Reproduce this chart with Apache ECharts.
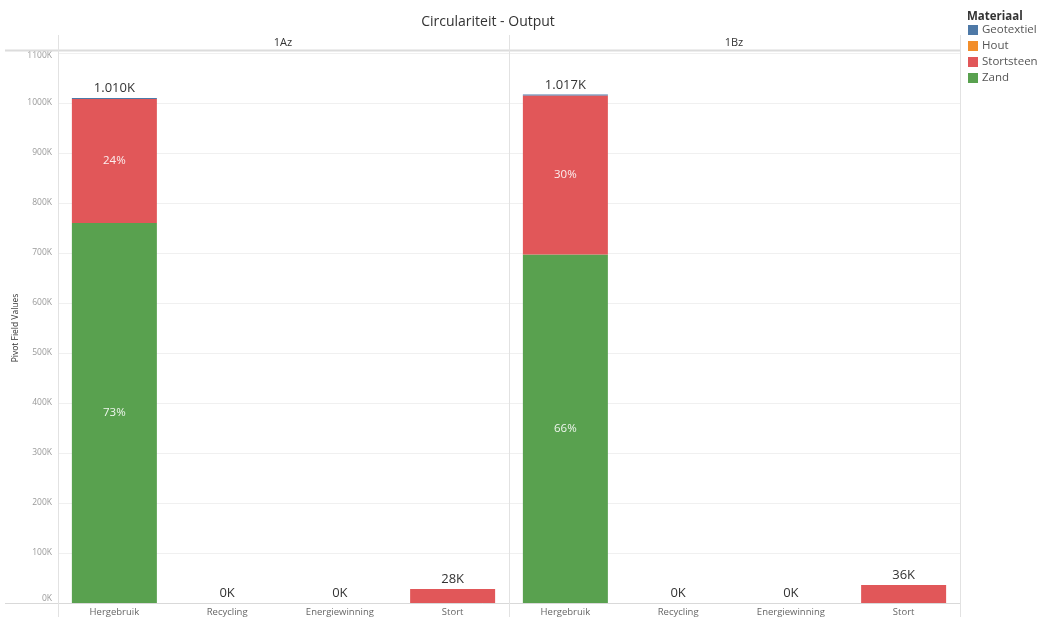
<!DOCTYPE html>
<html>
<head>
<meta charset="utf-8">
<script src="https://cdn.jsdelivr.net/npm/echarts@6/dist/echarts.min.js"></script>
<style>
  html, body { margin: 0; padding: 0; background: #fff; }
  #chart { width: 1041px; height: 617px; }
</style>
</head>
<body>
<div id="chart"></div>
<script>
// Categories and panes
const categories = ['Hergebruik', 'Recycling', 'Energiewinning', 'Stort'];
const panes = ['1Az', '1Bz'];
const materials = ['Geotextiel', 'Hout', 'Stortsteen', 'Zand'];
const yTicks = [0, 100, 200, 300, 400, 500, 600, 700, 800, 900, 1000, 1100]; // in K

// Values (thousands) per material, per pane
const geotextiel1Az = [2, 0, 0, 0];
const hout1Az       = [0, 0, 0, 0];
const stortsteen1Az = [248, 0, 0, 28];
const zand1Az       = [760, 0, 0, 0];

const geotextiel1Bz = [2, 0, 0, 0];
const hout1Bz       = [0, 0, 0, 0];
const stortsteen1Bz = [318, 0, 0, 36];
const zand1Bz       = [697, 0, 0, 0];

const colors = { Geotextiel: '#4e79a7', Hout: '#f28e2b', Stortsteen: '#e15759', Zand: '#59a14f' };

const paneData = [
  { Zand: zand1Az, Stortsteen: stortsteen1Az, Hout: hout1Az, Geotextiel: geotextiel1Az },
  { Zand: zand1Bz, Stortsteen: stortsteen1Bz, Hout: hout1Bz, Geotextiel: geotextiel1Bz }
];

function fmtK(v) {
  v = Math.round(v);
  if (v >= 1000) {
    const r = v % 1000;
    return Math.floor(v / 1000) + '.' + String(r).padStart(3, '0') + 'K';
  }
  return v + 'K';
}

const FONT = '"Open Sans", "Noto Sans", sans-serif';
const stackOrder = ['Zand', 'Stortsteen', 'Hout', 'Geotextiel'];

const series = [];
paneData.forEach((pd, p) => {
  const totals = categories.map((_, i) => stackOrder.reduce((s, m) => s + pd[m][i], 0));
  const paneTotal = totals.reduce((a, b) => a + b, 0);
  stackOrder.forEach(m => {
    series.push({
      name: m,
      type: 'bar',
      xAxisIndex: p,
      yAxisIndex: p,
      stack: 'pane' + p,
      barWidth: 85,
      barGap: '-100%',
      data: pd[m],
      itemStyle: { color: colors[m] },
      label: {
        show: true,
        position: 'inside',
        color: 'rgba(255,255,255,0.9)',
        fontSize: 11.5,
        fontFamily: FONT,
        formatter: prm => {
          const pct = prm.value / paneTotal * 100;
          return pct >= 5 ? Math.round(pct) + '%' : '';
        }
      },
      silent: true
    });
  });
  // totals on top of each stack
  series.push({
    name: 'total' + p,
    type: 'bar',
    xAxisIndex: p,
    yAxisIndex: p,
    barWidth: 85,
    barGap: '-100%',
    data: totals,
    itemStyle: { color: 'rgba(0,0,0,0)' },
    label: {
      show: true,
      position: 'top',
      distance: 3,
      color: '#333',
      fontSize: 13,
      fontFamily: FONT,
      formatter: prm => fmtK(prm.value)
    },
    silent: true,
    z: 1
  });
});

const gridTop = 53, gridBottom = 14;
const grids = [
  { left: 58, right: 1041 - 509, top: gridTop, bottom: gridBottom },
  { left: 509, right: 1041 - 960, top: gridTop, bottom: gridBottom }
];

const xAxes = panes.map((_, p) => ({
  type: 'category',
  gridIndex: p,
  data: categories,
  axisLine: { show: false },
  axisTick: { show: false },
  axisLabel: { color: '#666', fontSize: 9.5, fontFamily: FONT, margin: 4 }
}));

const yAxes = panes.map((_, p) => ({
  type: 'value',
  gridIndex: p,
  min: yTicks[0],
  max: yTicks[yTicks.length - 1],
  interval: 100,
  name: p === 0 ? 'Pivot Field Values' : '',
  nameLocation: 'middle',
  nameGap: 38,
  nameTextStyle: { color: '#333', fontSize: 8.5, fontFamily: FONT },
  axisLine: { show: false },
  axisTick: { show: false },
  splitLine: { show: true, lineStyle: { color: '#f0f0f0', width: 1 } },
  axisLabel: {
    show: p === 0,
    color: '#999',
    fontSize: 8.5,
    fontFamily: FONT,
    margin: 6,
    formatter: v => (v === 0 ? '{z|0K}' : v === 1100 ? '{t|1100K}' : v + 'K'),
    rich: {
      z: { color: '#999', fontSize: 8.5, fontFamily: FONT, padding: [0, 0, 9, 0] },
      t: { color: '#999', fontSize: 8.5, fontFamily: FONT, padding: [5, 0, 0, 0] }
    }
  }
}));

const lineStyle = { stroke: '#e2e2e2', lineWidth: 1 };
const graphic = [
  { type: 'line', shape: { x1: 5, y1: 50.5, x2: 960, y2: 50.5 }, style: { stroke: '#dcdcdc', lineWidth: 2 }, z: 10 },
  { type: 'line', shape: { x1: 5, y1: 603.5, x2: 960, y2: 603.5 }, style: { stroke: '#d9d9d9', lineWidth: 1 }, z: 10 },
  { type: 'line', shape: { x1: 58.5, y1: 35, x2: 58.5, y2: 617 }, style: lineStyle, z: 10 },
  { type: 'line', shape: { x1: 509.5, y1: 35, x2: 509.5, y2: 617 }, style: lineStyle, z: 10 },
  { type: 'line', shape: { x1: 960.5, y1: 35, x2: 960.5, y2: 617 }, style: lineStyle, z: 10 },
  { type: 'text', x: 283, y: 43, style: { text: panes[0], fill: '#333', font: '11px ' + FONT, textAlign: 'center', textVerticalAlign: 'middle' } },
  { type: 'text', x: 734, y: 43, style: { text: panes[1], fill: '#333', font: '11px ' + FONT, textAlign: 'center', textVerticalAlign: 'middle' } }
];

const chart = echarts.init(document.getElementById('chart'), null, { renderer: 'canvas' });
chart.setOption({
  animation: false,
  title: [
    { text: 'Circulariteit - Output', left: 483, top: 10, textAlign: 'center',
      textStyle: { color: '#333', fontSize: 14, fontWeight: 'normal', fontFamily: FONT } },
    { text: 'Materiaal', left: 962, top: 6,
      textStyle: { color: '#333', fontSize: 11.5, fontWeight: 'bold', fontFamily: FONT } }
  ],
  legend: {
    data: materials,
    orient: 'vertical',
    left: 968,
    top: 24,
    padding: 0,
    icon: 'rect',
    itemWidth: 10,
    itemHeight: 10,
    itemGap: 4,
    textStyle: { color: '#555', fontSize: 11.5, lineHeight: 12, fontFamily: FONT, padding: [0, 0, 0, -1] },
    selectedMode: false
  },
  grid: grids,
  xAxis: xAxes,
  yAxis: yAxes,
  series: series,
  graphic: graphic
});
</script>
</body>
</html>
